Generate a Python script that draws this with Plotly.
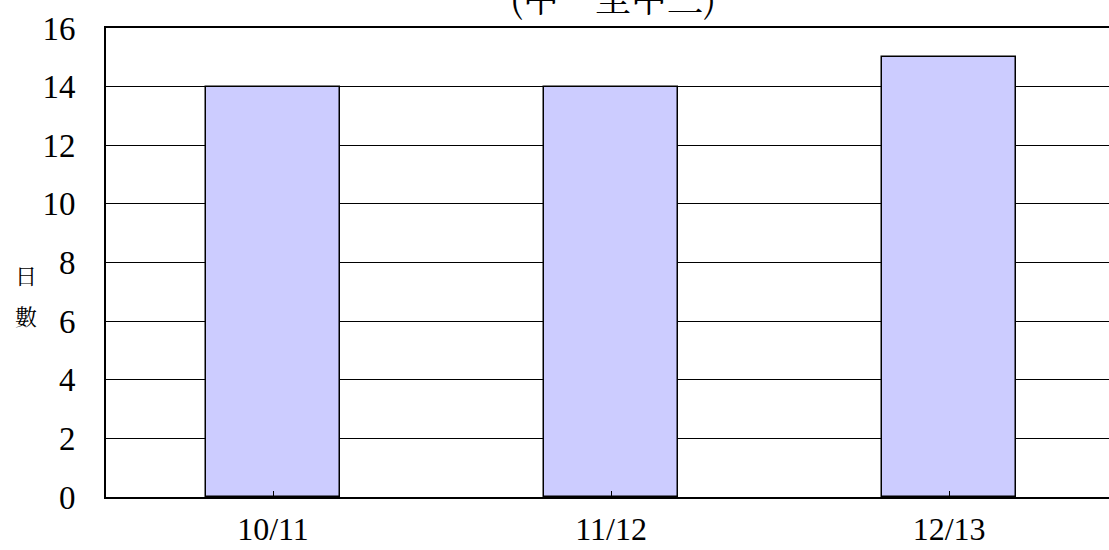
import plotly.graph_objects as go

categories = ["10/11", "11/12", "12/13"]
values = [14, 14, 15]
y_ticks = [0, 2, 4, 6, 8, 10, 12, 14, 16]
title_text = "(中一至中三)"
y_title_chars = ["日", "數"]

num_font = "Liberation Serif"
cjk_font = "Noto Serif CJK TC, Noto Sans CJK TC"

fig = go.Figure()
fig.add_trace(go.Bar(
    x=[0, 1, 2], y=values, width=0.395,
    marker=dict(color="#CCCCFF", line=dict(color="black", width=1.5)),
))

fig.update_layout(
    width=1109, height=550,
    margin=dict(l=106, r=0, t=28, b=53, autoexpand=False),
    paper_bgcolor="white", plot_bgcolor="white",
    showlegend=False,
    bargap=0,
)
fig.update_xaxes(
    range=[-0.494, 2.473],
    tickmode="array", tickvals=[0, 1, 2], ticktext=categories,
    tickson="boundaries", ticks="inside", ticklen=6, tickcolor="black", tickwidth=1.3,
    showline=True, linecolor="black", linewidth=2, mirror=True,
    showgrid=False, zeroline=False,
    tickfont=dict(family=num_font, size=32, color="black"),
    ticklabelstandoff=3,
)
fig.update_yaxes(
    range=[0, 16], tickvals=y_ticks,
    showline=True, linecolor="black", linewidth=2,
    showgrid=True, gridcolor="black", gridwidth=1.3,
    zeroline=False, ticks="",
    tickfont=dict(family=num_font, size=33, color="black"),
    ticklabelstandoff=22,
)
fig.add_annotation(
    text=title_text, xref="paper", yref="paper", x=0.505, y=1.068,
    xanchor="center", yanchor="middle", showarrow=False,
    font=dict(family=cjk_font, size=36, color="black"),
)
for ch, ypx in zip(y_title_chars, [274, 316]):
    fig.add_annotation(
        text=ch, xref="paper", yref="paper", x=(26 - 106) / 1003, y=(497 - ypx) / 469,
        xanchor="center", yanchor="middle", showarrow=False,
        font=dict(family=cjk_font, size=22, color="black"),
    )
fig.write_html("out.html", config={"displayModeBar": False},
               post_script="document.body.style.margin='0';document.body.style.overflow='hidden';")
